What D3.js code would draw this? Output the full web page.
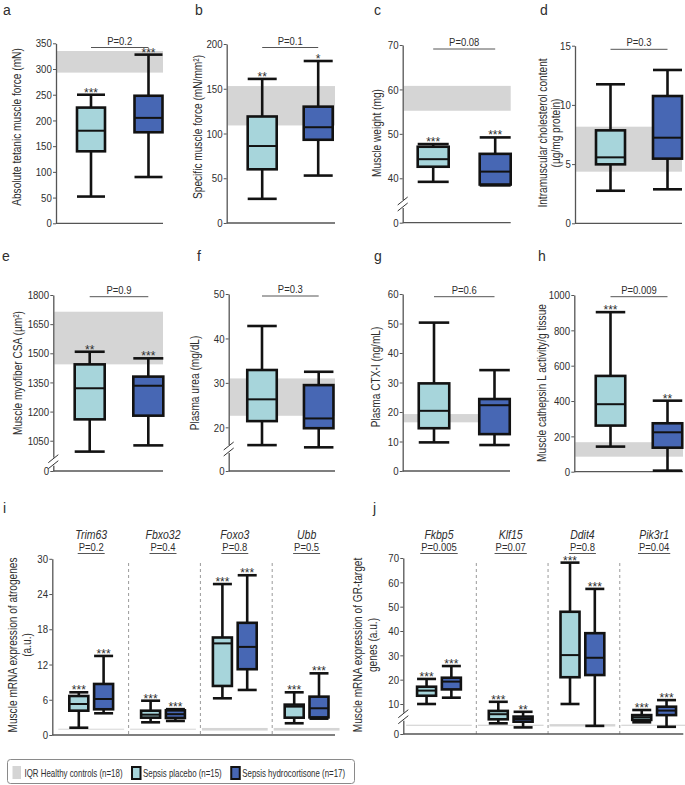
<!DOCTYPE html>
<html><head><meta charset="utf-8">
<script src="https://cdn.jsdelivr.net/npm/d3@7"></script>
<style>
body{margin:0;background:#fff}
svg{display:block}
text{font-family:"Liberation Sans",Arial,sans-serif;fill:#2e2e2e}
</style>
</head><body><svg id="c" width="685" height="785"></svg>
<script>
// ---------- DATA ----------
const groups = ["Sepsis placebo", "Sepsis hydrocortisone"];
// box stats: [min, q1, median, q3, max]
const aBoxes = [[52,140,180,225,250],[90,177,205,248,328]];
const aIQR = [293,335];
const aTicks = [0,50,100,150,200,250,300,350];
const aStars = ["***","***"];
const aP = "P=0.2";

const bBoxes = [[27,60,86,119,161],[53,93,107,130,181]];
const bIQR = [109,153];
const bTicks = [0,50,100,150,200];
const bStars = ["**","*"];
const bP = "P=0.1";

const cBoxes = [[39.2,42.6,44.3,47.1,47.7],[38.4,38.6,41.5,45.5,49.2]];
const cIQR = [55.2,60.8];
const cTicks = [0,40,50,60,70];
const cStars = ["***","***"];
const cP = "P=0.08";

const dBoxes = [[2.75,4.98,5.57,7.85,11.74],[2.87,5.46,7.23,10.75,12.95]];
const dIQR = [4.36,8.16];
const dTicks = [0,5,10,15];
const dStars = ["",""];
const dP = "P=0.3";

const eBoxes = [[994,1160,1320,1443,1508],[1026,1179,1333,1380,1474]];
const eIQR = [1443,1714];
const eTicks = [0,1050,1200,1350,1500,1650,1800];
const eStars = ["**","***"];
const eP = "P=0.9";

const fBoxes = [[16,21.4,26.3,32.9,42.8],[15.5,19.8,22,29.5,32.5]];
const fIQR = [22.6,31];
const fTicks = [0,20,30,40,50];
const fStars = ["",""];
const fP = "P=0.3";

const gBoxes = [[9.7,14.5,20.4,29.7,50.3],[8.8,12.5,22.3,24.4,34.2]];
const gIQR = [16.5,19.3];
const gTicks = [0,10,20,30,40,50,60];
const gStars = ["",""];
const gP = "P=0.6";

const hBoxes = [[142,261,382,542,903],[6,136,223,274,402]];
const hIQR = [85,167];
const hTicks = [0,200,400,600,800,1000];
const hStars = ["***","**"];
const hP = "P=0.009";

const iGenes = ["Trim63","Fbxo32","Foxo3","Ubb"];
const iPlacebo = [[1.24,4.14,5.28,6.64,7.27],[2.16,2.95,3.46,4.14,5.84],[6.25,8.35,15.6,16.6,25.7],[2.0,2.95,4.83,5.17,7.27]];
const iHydro = [[3.7,4.38,6.13,8.69,13.46],[2.39,2.9,3.55,4.2,4.4],[7.67,11.2,15.0,19.1,27.2],[2.78,3.0,4.55,6.53,10.5]];
const iIQR = [[0.9,1.07],[0.9,1.07],[0.75,1.2],[0.75,1.2]];
const iP = ["P=0.2","P=0.4","P=0.8","P=0.5"];
const iStarsPlacebo = ["***","***","***","***"];
const iStarsHydro = ["***","***","***","***"];
const iTicks = [0,6,12,18,24,30];

const jGenes = ["Fkbp5","Klf15","Ddit4","Pik3r1"];
const jPlacebo = [[10.0,13.4,15.5,17.1,20.3],[3.56,4.9,6.6,7.7,10.9],[10,21,30.1,47.9,68.1],[3.9,4.7,5.6,6.3,8.0]];
const jHydro = [[12.6,16.0,19.2,20.8,25.6],[2.2,4.1,5.0,5.8,7.4],[2.7,21.9,29.0,39.1,57.3],[2.4,6.3,7.8,9.1,11.6]];
const jIQR = [[2.7,3.1],[2.7,3.1],[2.5,3.3],[2.7,3.1]];
const jP = ["P=0.005","P=0.07","P=0.8","P=0.04"];
const jStarsPlacebo = ["***","***","***","***"];
const jStarsHydro = ["***","**","***","***"];
const jTicks = [0,10,20,30,40,50,60,70];

const legendLabels = ["IQR Healthy controls (n=18)","Sepsis placebo (n=15)","Sepsis hydrocortisone (n=17)"];

// ---------- STYLE ----------
const COL = {placebo:"#a7d5db", hydro:"#4767b4", band:"#d5d5d5", ink:"#121212", axis:"#555", star:"#555"};
const SW = 2.6;
const K = 0.86; // horizontal condensation to mimic a narrow font
const svg = d3.select("#c");

function T(parent, x, y, str, o = {}) {
  const t = parent.append("text")
    .attr("transform", `translate(${x},${y})` + (o.rotate ? ` rotate(${o.rotate})` : "") + ` scale(${o.k || K},1)`)
    .attr("font-size", o.size || 11)
    .attr("text-anchor", o.anchor || "start")
    .text(str);
  if (o.baseline) t.attr("dominant-baseline", o.baseline);
  if (o.italic) t.attr("font-style", "italic");
  if (o.fill) t.attr("fill", o.fill);
  return t;
}

function yAxis(g, y, axisX, ticks, xEnd) {
  const ax = g.append("g").attr("transform", `translate(${axisX},0)`)
    .call(d3.axisLeft(y).tickValues(ticks).tickSize(3).tickSizeOuter(0).tickPadding(2).tickFormat(d3.format("d")));
  ax.select(".domain").attr("stroke", COL.axis).attr("stroke-width", 1.3);
  ax.selectAll(".tick line").attr("stroke", COL.axis);
  ax.selectAll(".tick text").attr("font-size", 11.5).attr("fill", "#2e2e2e")
    .attr("transform", "scale(0.84,1)")
    .style("font-family", '"Liberation Sans",Arial,sans-serif');
  const b = y.range()[0];
  g.append("line").attr("x1", axisX).attr("x2", xEnd).attr("y1", b).attr("y2", b)
    .attr("stroke", COL.axis).attr("stroke-width", 1.3);
}

function breakMark(g, axisX, by) {
  g.append("rect").attr("x", axisX-2).attr("y", by-4).attr("width", 4).attr("height", 8).attr("fill", "#fff");
  [-3, 3].forEach(d => g.append("line")
    .attr("x1", axisX-5).attr("y1", by+d+4).attr("x2", axisX+5).attr("y2", by+d-4)
    .attr("stroke", "#333").attr("stroke-width", 1));
}

function drawBox(g, cx, bw, s, y, fill, star) {
  g.append("line").attr("x1", cx).attr("x2", cx).attr("y1", y(s[0])).attr("y2", y(s[4]))
    .attr("stroke", COL.ink).attr("stroke-width", SW);
  [s[0], s[4]].forEach(v => g.append("line").attr("x1", cx-bw/2).attr("x2", cx+bw/2)
    .attr("y1", y(v)).attr("y2", y(v)).attr("stroke", COL.ink).attr("stroke-width", SW));
  g.append("rect").attr("x", cx-bw/2).attr("width", bw).attr("y", y(s[3])).attr("height", y(s[1])-y(s[3]))
    .attr("fill", fill).attr("stroke", COL.ink).attr("stroke-width", SW);
  g.append("line").attr("x1", cx-bw/2).attr("x2", cx+bw/2).attr("y1", y(s[2])).attr("y2", y(s[2]))
    .attr("stroke", COL.ink).attr("stroke-width", 2);
  if (star) T(g, cx, y(s[4]) + 2, star, {size: 12, anchor: "middle", fill: COL.star, k: 1});
}

function axisLabel(g, lines, xs, yc) {
  lines.forEach((t, i) => T(g, xs[i], yc, t, {rotate: -90, anchor: "middle", baseline: "central", size: 12, k: 0.845}));
}

function letter(t, x, y) {
  svg.append("text").attr("x", x).attr("y", y).attr("font-size", 14).attr("fill", "#222").text(t);
}

function boxPanel(cfg) {
  const g = svg.append("g");
  const y = d3.scaleLinear().domain(cfg.domain).range(cfg.range);
  const x = d3.scalePoint().domain(groups).range([cfg.axisX + cfg.offs[0], cfg.axisX + cfg.offs[1]]);
  g.append("rect").attr("x", cfg.axisX + 1).attr("width", cfg.xEnd - cfg.axisX - 1)
    .attr("y", y(cfg.iqr[1])).attr("height", y(cfg.iqr[0]) - y(cfg.iqr[1])).attr("fill", COL.band);
  yAxis(g, y, cfg.axisX, cfg.ticks, cfg.xEnd);
  if (cfg.breakY) breakMark(g, cfg.axisX, cfg.breakY);
  groups.forEach((k, i) => drawBox(g, x(k), cfg.bw, cfg.boxes[i], y, i ? COL.hydro : COL.placebo, cfg.stars[i]));
  g.append("line").attr("x1", x(groups[0])).attr("x2", x(groups[1])).attr("y1", cfg.pY).attr("y2", cfg.pY)
    .attr("stroke", COL.axis).attr("stroke-width", 1);
  T(g, (x(groups[0]) + x(groups[1])) / 2, cfg.pY - 3, cfg.p, {anchor: "middle", size: 11});
  axisLabel(g, cfg.label, cfg.labelX, cfg.labelY);
}

function genePanel(cfg) {
  const g = svg.append("g");
  const y = d3.scaleLinear().domain(cfg.domain).range(cfg.range);
  const xg = d3.scaleBand().domain(cfg.genes).range(cfg.bandRange);
  const xi = d3.scalePoint().domain(groups).range([-12.4, 12.4]);
  const bw = 19;
  cfg.genes.slice(1).forEach(gn => g.append("line").attr("x1", xg(gn) + 1.5).attr("x2", xg(gn) + 1.5)
    .attr("y1", 563).attr("y2", cfg.range[0]).attr("stroke", "#9a9a9a").attr("stroke-width", 1).attr("stroke-dasharray", "3,3"));
  cfg.genes.forEach((gn, i) => g.append("rect").attr("x", xg(gn) + 3).attr("width", xg.bandwidth() - 6)
    .attr("y", y(cfg.iqr[i][1])).attr("height", Math.max(1, y(cfg.iqr[i][0]) - y(cfg.iqr[i][1]))).attr("fill", COL.band));
  yAxis(g, y, cfg.axisX, cfg.ticks, cfg.xEnd);
  if (cfg.breakY) breakMark(g, cfg.axisX, cfg.breakY);
  cfg.genes.forEach((gn, i) => {
    const c = xg(gn) + xg.bandwidth() / 2;
    drawBox(g, c + xi(groups[0]), bw, cfg.placebo[i], y, COL.placebo, cfg.starsP[i]);
    drawBox(g, c + xi(groups[1]), bw, cfg.hydro[i], y, COL.hydro, cfg.starsH[i]);
    T(g, c, 539, gn, {anchor: "middle", size: 12.5, italic: true, k: 0.84});
    const pt = T(g, c, 551, cfg.p[i], {anchor: "middle", size: 11});
    const w = pt.node().getComputedTextLength() * K;
    g.append("line").attr("x1", c - w/2 - 1).attr("x2", c + w/2 + 1).attr("y1", 553.5).attr("y2", 553.5)
      .attr("stroke", COL.axis).attr("stroke-width", 1);
  });
  axisLabel(g, cfg.label, cfg.labelX, cfg.labelY);
}

// ---------- PANELS ----------
boxPanel({axisX:56, xEnd:163, domain:[0,350], range:[223.3,43.3], ticks:aTicks, iqr:aIQR, boxes:aBoxes, stars:aStars,
  p:aP, pY:47.5, offs:[35,92.5], bw:28, label:["Absolute tetanic muscle force (mN)"], labelX:[17], labelY:127});
boxPanel({axisX:226.7, xEnd:335, domain:[0,200], range:[223,44], ticks:bTicks, iqr:bIQR, boxes:bBoxes, stars:bStars,
  p:bP, pY:47.5, offs:[35.5,91.5], bw:29, label:["Specific muscle force (mN/mm²)"], labelX:[198], labelY:127});
boxPanel({axisX:402.7, xEnd:510.7, domain:[0,35,70], range:[222.7,200.5,45], ticks:cTicks, iqr:cIQR, boxes:cBoxes, stars:cStars,
  p:cP, pY:49, offs:[30.5,92.5], bw:31, breakY:204, label:["Muscle weight (mg)"], labelX:[376.7], labelY:133});
boxPanel({axisX:575, xEnd:682, domain:[0,15], range:[223.3,45.7], ticks:dTicks, iqr:dIQR, boxes:dBoxes, stars:dStars,
  p:dP, pY:49.3, offs:[35.5,92.5], bw:29, label:["Intramuscular cholesterol content","(µg/mg protein)"], labelX:[543,556], labelY:133});

boxPanel({axisX:53.3, xEnd:163, domain:[0,975,1800], range:[471,455.3,295], ticks:eTicks, iqr:eIQR, boxes:eBoxes, stars:eStars,
  p:eP, pY:296.7, offs:[36.4,95], bw:30, breakY:461.7, label:["Muscle myofiber CSA (µm²)"], labelX:[17.7], labelY:373});
boxPanel({axisX:228.7, xEnd:335, domain:[0,14,50], range:[471,454,294], ticks:fTicks, iqr:fIQR, boxes:fBoxes, stars:fStars,
  p:fP, pY:296, offs:[33.3,90], bw:29.5, breakY:449, label:["Plasma urea (mg/dL)"], labelX:[195], labelY:383});
boxPanel({axisX:402.7, xEnd:510, domain:[0,60], range:[471,294], ticks:gTicks, iqr:gIQR, boxes:gBoxes, stars:gStars,
  p:gP, pY:296.7, offs:[31.3,91.8], bw:30.5, label:["Plasma CTX-I (ng/mL)"], labelX:[375.7], labelY:377});
boxPanel({axisX:574.3, xEnd:683, domain:[0,1000], range:[471.7,295], ticks:hTicks, iqr:hIQR, boxes:hBoxes, stars:hStars,
  p:hP, pY:296.7, offs:[36.2,93.2], bw:29.5, label:["Muscle cathepsin L activity/g tissue"], labelX:[541.7], labelY:383});

genePanel({axisX:52.3, xEnd:335, domain:[0,30], range:[735,558.8], ticks:iTicks, genes:iGenes, bandRange:[55.3,342.5],
  placebo:iPlacebo, hydro:iHydro, iqr:iIQR, p:iP, starsP:iStarsPlacebo, starsH:iStarsHydro,
  label:["Muscle mRNA expression of atrogenes","(a.u.)"], labelX:[13,27], labelY:645});
genePanel({axisX:403.3, xEnd:683.3, domain:[0,10,70], range:[734,704,558], ticks:jTicks, genes:jGenes, bandRange:[403.1,690],
  placebo:jPlacebo, hydro:jHydro, iqr:jIQR, p:jP, starsP:jStarsPlacebo, starsH:jStarsHydro, breakY:716.7,
  label:["Muscle mRNA expression of GR-target","genes (a.u.)"], labelX:[358,373], labelY:645});

[["a",3,15],["b",195,15],["c",374,15],["d",540,15],["e",2,261],["f",197,261],["g",374,261],["h",538,261],["i",3,513],["j",373,513]]
  .forEach(d => letter(...d));

// ---------- LEGEND ----------
const lg = svg.append("g");
lg.append("rect").attr("x", 7.5).attr("y", 759.5).attr("width", 347).attr("height", 24).attr("rx", 3)
  .attr("fill", "#fff").attr("stroke", "#8a8a8a").attr("stroke-width", 1);
const LK = 0.79;
let lx = 12.5;
const legFills = [COL.band, COL.placebo, COL.hydro];
legendLabels.forEach((t, i) => {
  if (i === 0) lg.append("rect").attr("x", lx).attr("y", 766).attr("width", 8.5).attr("height", 13).attr("fill", legFills[i]);
  else lg.append("rect").attr("x", lx + 1).attr("y", 767).attr("width", 8.5).attr("height", 12)
    .attr("fill", legFills[i]).attr("stroke", COL.ink).attr("stroke-width", 2);
  const tx = T(lg, lx + 12, 776.5, t, {size: 10, k: LK});
  lx += 12 + tx.node().getComputedTextLength() * LK + 8.5;
});
</script>
</body></html>
